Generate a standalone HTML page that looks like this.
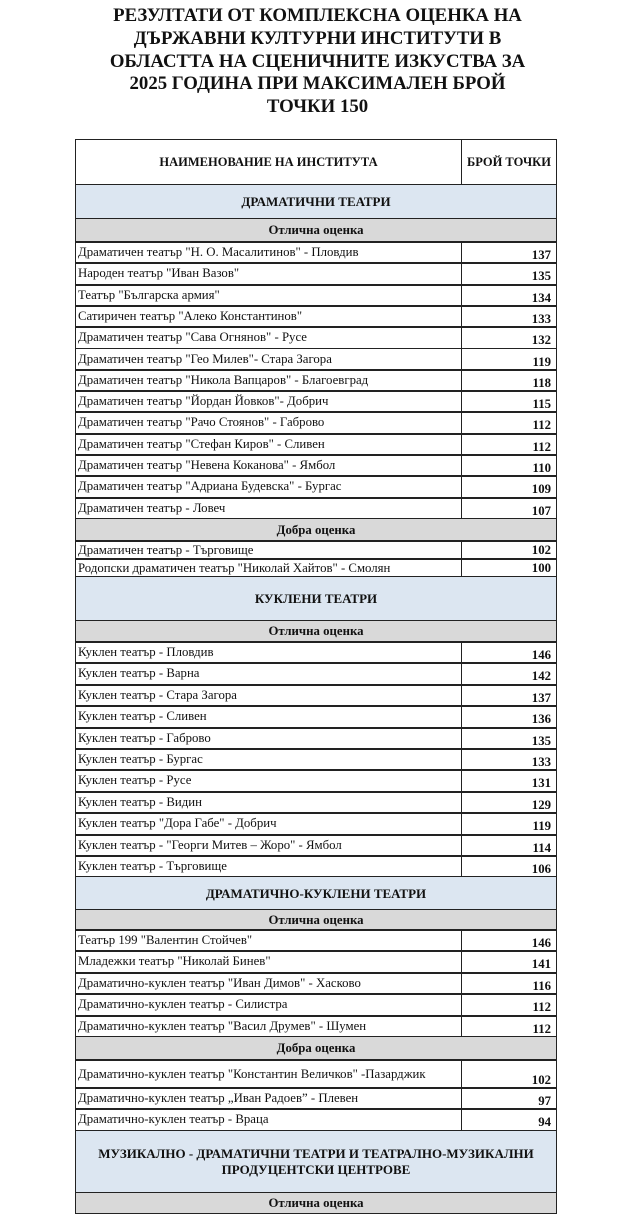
<!DOCTYPE html>
<html><head><meta charset="utf-8"><style>
body{margin:0;width:635px;height:1200px;background:#fff;overflow:hidden;position:relative;font-family:"Liberation Serif",serif;color:#111}
.t{position:absolute;left:0;width:635px;top:5px;text-align:center;font-weight:bold;font-size:18.8px;line-height:22.8px}
.r{position:absolute;left:75px;width:480px;border:1.5px solid #222;box-sizing:content-box;font-size:12.8px}
.r .n{position:absolute;left:2px;top:0;}
.r .v{position:absolute;left:385px;right:0;top:0;bottom:0;border-left:1.5px solid #222;text-align:right;font-weight:bold;padding-right:5px}
.s{background:#dce6f1;text-align:center;font-weight:bold;font-size:13px}
.g{background:#d9d9d9;text-align:center;font-weight:bold;font-size:12.8px}
</style></head><body>
<div class="t">РЕЗУЛТАТИ ОТ КОМПЛЕКСНА ОЦЕНКА НА<br>ДЪРЖАВНИ КУЛТУРНИ ИНСТИТУТИ В<br>ОБЛАСТТА НА СЦЕНИЧНИТЕ ИЗКУСТВА ЗА<br>2025 ГОДИНА ПРИ МАКСИМАЛЕН БРОЙ<br>ТОЧКИ 150</div>
<div class="r" style="top:139px;height:45px;font-weight:bold;font-size:12.5px"><div class="n" style="left:0;width:385px;text-align:center;line-height:45px">НАИМЕНОВАНИЕ НА ИНСТИТУТА</div><div class="v" style="text-align:center;padding:0;line-height:45px">БРОЙ ТОЧКИ</div></div>
<div class="r s" style="top:184px;height:34px;line-height:34px">ДРАМАТИЧНИ ТЕАТРИ</div>
<div class="r g" style="top:218px;height:23px;line-height:23px">Отлична оценка</div>
<div class="r" style="top:241px;height:21.3px"><div class="n" style="line-height:21px">Драматичен театър "Н. О. Масалитинов" - Пловдив</div><div class="v" style="line-height:26px">137</div></div>
<div class="r" style="top:262.3px;height:21.3px"><div class="n" style="line-height:21px">Народен театър "Иван Вазов"</div><div class="v" style="line-height:26px">135</div></div>
<div class="r" style="top:283.6px;height:21.3px"><div class="n" style="line-height:21px">Театър "Българска армия"</div><div class="v" style="line-height:26px">134</div></div>
<div class="r" style="top:304.9px;height:21.3px"><div class="n" style="line-height:21px">Сатиричен театър "Алеко Константинов"</div><div class="v" style="line-height:26px">133</div></div>
<div class="r" style="top:326.2px;height:21.3px"><div class="n" style="line-height:21px">Драматичен театър "Сава Огнянов" - Русе</div><div class="v" style="line-height:26px">132</div></div>
<div class="r" style="top:347.5px;height:21.3px"><div class="n" style="line-height:21px">Драматичен театър "Гео Милев"- Стара Загора</div><div class="v" style="line-height:26px">119</div></div>
<div class="r" style="top:368.8px;height:21.3px"><div class="n" style="line-height:21px">Драматичен театър "Никола Вапцаров" - Благоевград</div><div class="v" style="line-height:26px">118</div></div>
<div class="r" style="top:390.1px;height:21.3px"><div class="n" style="line-height:21px">Драматичен театър "Йордан Йовков"- Добрич</div><div class="v" style="line-height:26px">115</div></div>
<div class="r" style="top:411.4px;height:21.3px"><div class="n" style="line-height:21px">Драматичен театър "Рачо Стоянов" - Габрово</div><div class="v" style="line-height:26px">112</div></div>
<div class="r" style="top:432.7px;height:21.3px"><div class="n" style="line-height:21px">Драматичен театър "Стефан Киров" - Сливен</div><div class="v" style="line-height:26px">112</div></div>
<div class="r" style="top:454px;height:21.3px"><div class="n" style="line-height:21px">Драматичен театър "Невена Коканова" - Ямбол</div><div class="v" style="line-height:26px">110</div></div>
<div class="r" style="top:475.3px;height:21.3px"><div class="n" style="line-height:21px">Драматичен театър "Адриана Будевска" - Бургас</div><div class="v" style="line-height:26px">109</div></div>
<div class="r" style="top:496.6px;height:21.4px"><div class="n" style="line-height:21px">Драматичен театър - Ловеч</div><div class="v" style="line-height:26px">107</div></div>
<div class="r g" style="top:518px;height:22px;line-height:22px">Добра оценка</div>
<div class="r" style="top:540px;height:18px"><div class="n" style="line-height:18px">Драматичен театър - Търговище</div><div class="v" style="line-height:18px">102</div></div>
<div class="r" style="top:558px;height:18px"><div class="n" style="line-height:18px">Родопски драматичен театър "Николай Хайтов" - Смолян</div><div class="v" style="line-height:18px">100</div></div>
<div class="r s" style="top:576px;height:44px;line-height:44px">КУКЛЕНИ ТЕАТРИ</div>
<div class="r g" style="top:620px;height:21px;line-height:21px">Отлична оценка</div>
<div class="r" style="top:641px;height:21.4px"><div class="n" style="line-height:21px">Куклен театър - Пловдив</div><div class="v" style="line-height:26px">146</div></div>
<div class="r" style="top:662.4px;height:21.4px"><div class="n" style="line-height:21px">Куклен театър - Варна</div><div class="v" style="line-height:26px">142</div></div>
<div class="r" style="top:683.8px;height:21.4px"><div class="n" style="line-height:21px">Куклен театър - Стара Загора</div><div class="v" style="line-height:26px">137</div></div>
<div class="r" style="top:705.2px;height:21.4px"><div class="n" style="line-height:21px">Куклен театър - Сливен</div><div class="v" style="line-height:26px">136</div></div>
<div class="r" style="top:726.6px;height:21.4px"><div class="n" style="line-height:21px">Куклен театър - Габрово</div><div class="v" style="line-height:26px">135</div></div>
<div class="r" style="top:748px;height:21.4px"><div class="n" style="line-height:21px">Куклен театър - Бургас</div><div class="v" style="line-height:26px">133</div></div>
<div class="r" style="top:769.4px;height:21.4px"><div class="n" style="line-height:21px">Куклен театър - Русе</div><div class="v" style="line-height:26px">131</div></div>
<div class="r" style="top:790.8px;height:21.4px"><div class="n" style="line-height:21px">Куклен театър - Видин</div><div class="v" style="line-height:26px">129</div></div>
<div class="r" style="top:812.2px;height:21.4px"><div class="n" style="line-height:21px">Куклен театър "Дора Габе" - Добрич</div><div class="v" style="line-height:26px">119</div></div>
<div class="r" style="top:833.6px;height:21.4px"><div class="n" style="line-height:21px">Куклен театър - "Георги Митев – Жоро" - Ямбол</div><div class="v" style="line-height:26px">114</div></div>
<div class="r" style="top:855px;height:21px"><div class="n" style="line-height:21px">Куклен театър - Търговище</div><div class="v" style="line-height:26px">106</div></div>
<div class="r s" style="top:876px;height:33px;line-height:33px">ДРАМАТИЧНО-КУКЛЕНИ ТЕАТРИ</div>
<div class="r g" style="top:909px;height:20px;line-height:20px">Отлична оценка</div>
<div class="r" style="top:929px;height:21.4px"><div class="n" style="line-height:21px">Театър 199 "Валентин Стойчев"</div><div class="v" style="line-height:26px">146</div></div>
<div class="r" style="top:950.4px;height:21.4px"><div class="n" style="line-height:21px">Младежки театър "Николай Бинев"</div><div class="v" style="line-height:26px">141</div></div>
<div class="r" style="top:971.8px;height:21.4px"><div class="n" style="line-height:21px">Драматично-куклен театър "Иван Димов" - Хасково</div><div class="v" style="line-height:26px">116</div></div>
<div class="r" style="top:993.2px;height:21.4px"><div class="n" style="line-height:21px">Драматично-куклен театър - Силистра</div><div class="v" style="line-height:26px">112</div></div>
<div class="r" style="top:1014.6px;height:21.4px"><div class="n" style="line-height:21px">Драматично-куклен театър "Васил Друмев" - Шумен</div><div class="v" style="line-height:26px">112</div></div>
<div class="r g" style="top:1036px;height:23px;line-height:23px">Добра оценка</div>
<div class="r" style="top:1059px;height:28px"><div class="n" style="line-height:28px">Драматично-куклен театър "Константин Величков" -Пазарджик</div><div class="v" style="line-height:40px">102</div></div>
<div class="r" style="top:1087px;height:21px"><div class="n" style="line-height:21px">Драматично-куклен театър „Иван Радоев” - Плевен</div><div class="v" style="line-height:26px">97</div></div>
<div class="r" style="top:1108px;height:22px"><div class="n" style="line-height:21px">Драматично-куклен театър - Враца</div><div class="v" style="line-height:26px">94</div></div>
<div class="r s" style="top:1130px;height:62px;padding-top:0"><div style="padding-top:15px;line-height:16px">МУЗИКАЛНО - ДРАМАТИЧНИ ТЕАТРИ И ТЕАТРАЛНО-МУЗИКАЛНИ<br>ПРОДУЦЕНТСКИ ЦЕНТРОВЕ</div></div>
<div class="r g" style="top:1192px;height:20px;line-height:20px">Отлична оценка</div>
</body></html>
